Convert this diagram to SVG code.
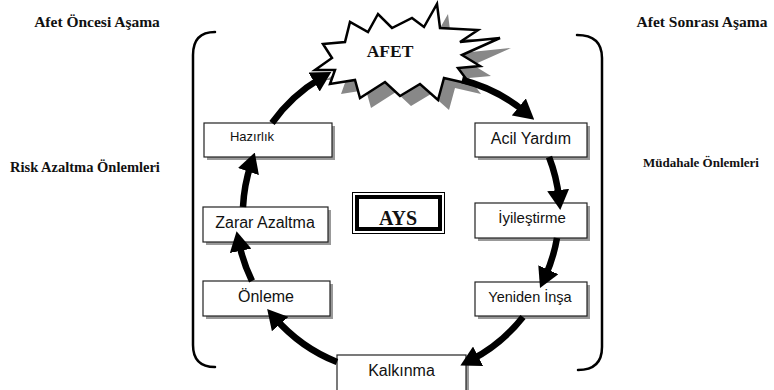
<svg xmlns="http://www.w3.org/2000/svg" width="774" height="390" viewBox="0 0 774 390">
<style>
.box{fill:#fff;stroke:#222;stroke-width:1.2}
.sh{fill:#999}
.t{font-family:"Liberation Sans",Arial,sans-serif;fill:#111;text-anchor:middle}
.h{font-family:"Liberation Serif","Times New Roman",serif;font-weight:bold;fill:#111;text-anchor:middle}
.br{fill:none;stroke:#000;stroke-width:2.5;stroke-linecap:round}
.c{fill:none;stroke:#000;stroke-width:6.5}
</style>
<defs>
<marker id="ah" markerUnits="userSpaceOnUse" viewBox="0 0 20 22" refX="8" refY="11" markerWidth="20" markerHeight="22" orient="auto">
<path d="M0,0 L20,11 L0,22 z" fill="#000"/>
</marker>
</defs>
<rect width="774" height="390" fill="#fff"/>
<g id="labels">
<text class="h" x="97" y="27" font-size="15.5">Afet Öncesi Aşama</text>
<text class="h" x="85" y="172" font-size="14.5">Risk Azaltma Önlemleri</text>
<text class="h" x="702" y="27" font-size="15.5">Afet Sonrası Aşama</text>
<text class="h" x="701" y="167" font-size="13">Müdahale Önlemleri</text>
</g>
<g id="brackets">
<path class="br" d="M215,32 Q193,32 193,55 L193,345 Q193,367 215,367"/>
<path class="br" d="M577,35 Q602,35 602,58 L602,347 Q602,370 578,370"/>
</g>
<g id="afet">
<polygon fill="#888" transform="translate(11,10)" points="323,44 345,42 350,22 368,32 378,14 392,28 412,18 424,27 437,4 440,28 478,30 460,42 500,38 462,55 480,66 458,68 470,84 444,78 438,100 420,84 400,96 385,82 360,98 355,80 330,84 335,70 315,70 332,58"/>
<polygon fill="#fff" stroke="#000" stroke-width="2.5" stroke-linejoin="miter" points="323,44 345,42 350,22 368,32 378,14 392,28 412,18 424,27 437,4 440,28 478,30 460,42 500,38 462,55 480,66 458,68 470,84 444,78 438,100 420,84 400,96 385,82 360,98 355,80 330,84 335,70 315,70 332,58"/>
<text class="h" x="390" y="57" font-size="17.5">AFET</text>
</g>
<g id="ays">
<rect x="352.5" y="192.5" width="92" height="41" fill="#fff" stroke="#000" stroke-width="1"/>
<rect x="357" y="197" width="83" height="32" fill="#fff" stroke="#000" stroke-width="4"/>
<text class="h" x="398" y="225" font-size="20">AYS</text>
</g>
<g id="hazirlik">
<rect class="sh" x="207" y="126" width="128" height="34"/>
<rect class="box" x="204" y="123" width="128" height="34"/>
<text class="t" x="252" y="141" font-size="13">Hazırlık</text>
</g>
<g id="zarar">
<rect class="sh" x="206" y="210" width="125" height="35"/>
<rect class="box" x="203" y="207" width="125" height="35"/>
<text class="t" x="265" y="228" font-size="16">Zarar Azaltma</text>
</g>
<g id="onleme">
<rect class="sh" x="206" y="284" width="127" height="35"/>
<rect class="box" x="203" y="281" width="127" height="35"/>
<text class="t" x="266" y="302" font-size="16">Önleme</text>
</g>
<g id="acil">
<rect class="sh" x="478" y="126" width="112" height="34"/>
<rect class="box" x="475" y="123" width="112" height="34"/>
<text class="t" x="531" y="144" font-size="16">Acil Yardım</text>
</g>
<g id="iyilestirme">
<rect class="sh" x="478" y="206" width="112" height="35"/>
<rect class="box" x="475" y="203" width="112" height="35"/>
<text class="t" x="532" y="223" font-size="15">İyileştirme</text>
</g>
<g id="yeniden">
<rect class="sh" x="478" y="285" width="112" height="34"/>
<rect class="box" x="475" y="282" width="112" height="34"/>
<text class="t" x="530" y="302" font-size="14.5">Yeniden İnşa</text>
</g>
<g id="kalkinma">
<rect class="sh" x="340" y="358" width="129" height="36"/>
<rect class="box" x="337" y="355" width="129" height="36"/>
<text class="t" x="401.5" y="376" font-size="16">Kalkınma</text>
</g>
<g id="connectors">
<path class="c" marker-end="url(#ah)" d="M272,123 A160,160 0 0 1 321,78"/>
<path class="c" marker-end="url(#ah)" d="M462,80 A160,160 0 0 1 525,112"/>
<path class="c" marker-end="url(#ah)" d="M549,157 A160,160 0 0 1 559,198"/>
<path class="c" marker-end="url(#ah)" d="M557,238 A160,160 0 0 1 545,277"/>
<path class="c" marker-end="url(#ah)" d="M523,317 A160,160 0 0 1 471,360"/>
<path class="c" marker-end="url(#ah)" d="M337,362 A160,160 0 0 1 275,318"/>
<path class="c" marker-end="url(#ah)" d="M252,281 A160,160 0 0 1 239,243"/>
<path class="c" marker-end="url(#ah)" d="M243,207 A160,160 0 0 1 251,164"/>
</g>
</svg>
